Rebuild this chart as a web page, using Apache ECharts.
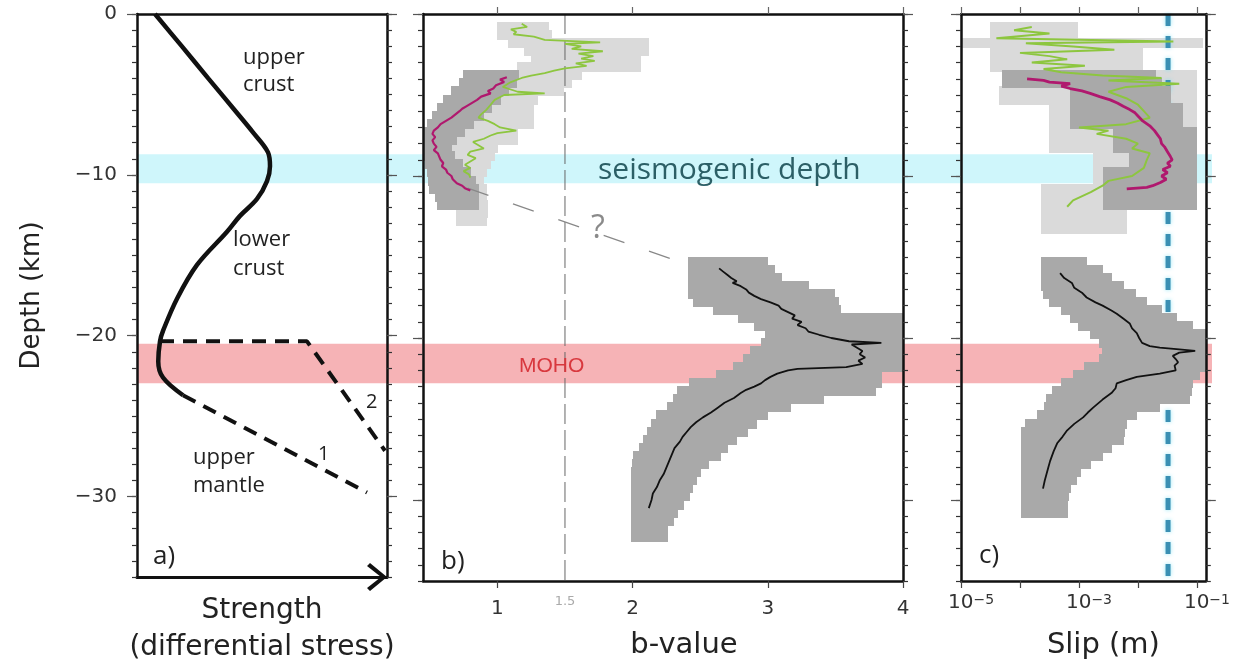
<!DOCTYPE html>
<html><head><meta charset="utf-8">
<script src="https://cdn.jsdelivr.net/npm/echarts@6/dist/echarts.min.js"></script>
<style>html,body{margin:0;padding:0;background:#fff}#c{width:1233px;height:671px}</style>
</head><body><div id="c"></div>
<script>
// ================= DATA =================
const depthTicks = [0, -10, -20, -30];
const bValueTicks = [1, 2, 3, 4];
const bReferenceValue = 1.5;
const slipLogTicks = [-5, -4, -3, -2, -1];
const slipLogLabels = [-5, -3, -1];
const depthMin = -35, depthMax = 0;

// horizontal bands (km)
const bandNames = ['seismogenic depth', 'MOHO'];
const bandTop = [-8.66, -20.35];
const bandBottom = [-10.45, -22.8];

// panel a: strength profile
const strengthDepth = [0, -2, -4, -6, -7.36, -8.6, -9.46, -10.39, -11.5, -12.55, -13.54, -15.6, -17.7, -19.7, -20.35, -21.6, -22.6, -23.7];
const strengthValue = [0.72, 1.79, 2.85, 3.92, 4.64, 5.24, 5.32, 5.2, 4.8, 4.12, 3.6, 2.4, 1.6, 1.04, 0.92, 0.85, 1.04, 1.84];
const mantle1Depth = [-23.7, -29.75];
const mantle1Strength = [1.84, 9.2];
const mantle2Depth = [-20.35, -20.35, -27.15];
const mantle2Strength = [0.92, 6.8, 9.92];

// panel b: b-value envelopes (row centre depth, low, high)
const bUpperLightDepth = [-0.75,-1.25,-1.75,-2.25,-2.75,-3.25,-3.75,-4.25,-4.75,-5.25,-5.75,-6.25,-6.75,-7.25,-7.75,-8.25,-8.75,-9.25,-9.75,-10.25,-10.75,-11.25,-11.75,-12.25,-12.75];
const bUpperLightLo = [1.0,1.0,1.08,1.2,1.25,1.15,0.95,0.8,0.72,0.66,0.6,0.55,0.5,0.48,0.47,0.47,0.47,0.47,0.5,0.52,0.6,0.65,0.68,0.7,0.7];
const bUpperLightHi = [1.38,1.4,2.12,2.12,2.06,2.06,1.62,1.55,1.49,1.3,1.27,1.27,1.27,1.15,1.15,1.0,0.98,0.95,0.92,0.9,0.92,0.92,0.93,0.93,0.92];
const bUpperDarkDepth = [-3.75,-4.25,-4.75,-5.25,-5.75,-6.25,-6.75,-7.25,-7.75,-8.25,-8.75,-9.25,-9.75,-10.25,-10.75,-11.25,-11.75];
const bUpperDarkLo = [0.75,0.72,0.66,0.6,0.56,0.52,0.48,0.46,0.46,0.46,0.46,0.47,0.48,0.49,0.5,0.54,0.56];
const bUpperDarkHi = [1.16,1.14,1.08,1.02,0.96,0.9,0.82,0.76,0.7,0.66,0.68,0.74,0.8,0.84,0.86,0.86,0.86];
const bLowerDepth = [-15.25,-15.75,-16.25,-16.75,-17.25,-17.75,-18.25,-18.75,-19.25,-19.75,-20.25,-20.75,-21.25,-21.75,-22.25,-22.75,-23.25,-23.75,-24.25,-24.75,-25.25,-25.75,-26.25,-26.75,-27.25,-27.75,-28.25,-28.75,-29.25,-29.75,-30.25,-30.75,-31.25,-31.75,-32.25];
const bLowerLo = [2.41,2.41,2.41,2.41,2.41,2.45,2.6,2.78,2.9,2.98,2.95,2.87,2.82,2.75,2.62,2.42,2.33,2.3,2.26,2.18,2.14,2.11,2.08,2.05,2.01,2.0,1.99,1.99,1.99,1.99,1.99,1.99,1.99,1.99,1.99];
const bLowerHi = [3.0,3.05,3.1,3.3,3.49,3.52,3.54,4.0,4.0,4.0,4.0,4.0,4.0,4.0,3.84,3.84,3.8,3.41,3.17,3.0,2.92,2.85,2.77,2.7,2.65,2.56,2.5,2.47,2.44,2.42,2.38,2.33,2.3,2.26,2.26];

// panel b: b-value profiles
const bGreenDepth = [-0.6,-0.8,-0.95,-1.1,-1.25,-1.4,-1.6,-1.75,-1.85,-2.0,-2.15,-2.3,-2.45,-2.6,-2.75,-2.9,-3.05,-3.2,-3.35,-3.5,-3.65,-3.8,-3.95,-4.2,-4.5,-4.8,-4.9,-5.0,-5.3,-5.6,-5.9,-6.2,-6.4,-6.6,-6.8,-7.0,-7.2,-7.35,-7.5,-7.7,-7.9,-8.1,-8.3,-8.5,-8.7,-8.9,-9.1,-9.3,-9.5,-9.7,-9.9,-10.1];
const bGreenValue = [1.18,1.22,1.1,1.14,1.12,1.27,1.35,1.76,1.5,1.62,1.55,1.78,1.6,1.71,1.62,1.72,1.58,1.66,1.5,1.42,1.35,1.25,1.18,1.1,1.04,1.15,1.35,1.05,0.98,0.95,0.92,0.88,0.86,0.93,0.98,1.02,1.14,1.0,0.95,0.9,0.82,0.86,0.9,0.8,0.78,0.84,0.8,0.76,0.8,0.75,0.79,0.8];
const bMagentaDepth = [-3.9,-4.05,-4.2,-4.4,-4.6,-4.75,-4.9,-5.1,-5.3,-5.5,-5.7,-5.85,-6.0,-6.2,-6.4,-6.6,-6.8,-7.0,-7.2,-7.4,-7.6,-7.8,-8.0,-8.2,-8.4,-8.6,-8.8,-9.0,-9.2,-9.4,-9.6,-9.8,-10.0,-10.2,-10.45,-10.6,-10.75,-10.9];
const bMagentaValue = [1.07,1.02,1.05,0.99,0.97,0.93,0.95,0.88,0.85,0.81,0.77,0.74,0.72,0.69,0.66,0.62,0.58,0.56,0.53,0.52,0.54,0.52,0.53,0.55,0.53,0.56,0.57,0.58,0.6,0.59,0.62,0.63,0.66,0.67,0.7,0.74,0.76,0.8];
const bBlackDepth = [-15.7,-15.9,-16.1,-16.3,-16.5,-16.6,-16.8,-17.0,-17.2,-17.4,-17.6,-17.8,-18.0,-18.2,-18.4,-18.6,-18.8,-19.0,-19.2,-19.4,-19.6,-19.8,-20.0,-20.2,-20.3,-20.4,-20.6,-20.8,-21.0,-21.2,-21.4,-21.6,-21.8,-21.9,-22.0,-22.2,-22.4,-22.6,-22.8,-23.0,-23.2,-23.4,-23.7,-24.0,-24.3,-24.6,-24.9,-25.2,-25.5,-25.8,-26.1,-26.4,-26.8,-27.2,-27.6,-28.0,-28.4,-28.8,-29.2,-29.6,-30.0,-30.5];
const bBlackValue = [2.64,2.67,2.7,2.73,2.77,2.74,2.8,2.84,2.86,2.9,2.95,3.02,3.08,3.1,3.15,3.2,3.18,3.25,3.22,3.28,3.3,3.38,3.47,3.6,3.84,3.62,3.66,3.7,3.68,3.72,3.67,3.7,3.58,3.22,3.15,3.07,3.02,2.98,2.95,2.9,2.84,2.8,2.75,2.68,2.63,2.58,2.52,2.47,2.43,2.4,2.37,2.35,2.31,2.29,2.27,2.25,2.23,2.2,2.18,2.15,2.14,2.12];
// dashed "?" connection
const bLinkDepth = [-10.75, -15.1];
const bLinkValue = [0.78, 2.28];

// panel c: log10(slip in m) envelopes
const cUpperLightDepth = [-0.75,-1.25,-1.75,-2.25,-2.75,-3.25,-3.75,-4.25,-4.75,-5.25,-5.75,-6.25,-6.75,-7.25,-7.75,-8.25,-8.75,-9.25,-9.75,-10.25,-10.75,-11.25,-11.75,-12.25,-12.75,-13.25];
const cUpperLightLo = [-4.5,-4.5,-5,-4.5,-4.5,-4.5,-4.3,-4.3,-4.35,-4.35,-3.5,-3.5,-3.5,-3.5,-3.5,-3.5,-2.76,-2.76,-2.76,-2.76,-3.63,-3.63,-3.63,-3.63,-3.63,-3.63];
const cUpperLightHi = [-3.03,-3.03,-0.9,-1.92,-1.92,-1.92,-1.0,-1.0,-1.0,-1.0,-1.0,-1.0,-1.0,-1.0,-1.0,-1.0,-1.0,-1.0,-1.0,-1.0,-2.2,-2.2,-2.2,-2.2,-2.2,-2.2];
const cUpperDarkDepth = [-3.75,-4.25,-4.75,-5.25,-5.75,-6.25,-6.75,-7.25,-7.75,-8.25,-8.75,-9.25,-9.75,-10.25,-10.75,-11.25,-11.75];
const cUpperDarkLo = [-4.3,-4.3,-3.15,-3.15,-3.15,-3.15,-3.15,-2.42,-2.42,-2.42,-2.14,-2.14,-2.59,-2.59,-2.59,-2.59,-2.59];
const cUpperDarkHi = [-1.7,-1.6,-1.45,-1.45,-1.24,-1.24,-1.24,-1.0,-1.0,-1.0,-1.0,-1.0,-1.0,-1.0,-1.0,-1.0,-1.0];
const cLowerDepth = [-15.25,-15.75,-16.25,-16.75,-17.25,-17.75,-18.25,-18.75,-19.25,-19.75,-20.25,-20.75,-21.25,-21.75,-22.25,-22.75,-23.25,-23.75,-24.25,-24.75,-25.25,-25.75,-26.25,-26.75,-27.25,-27.75,-28.25,-28.75,-29.25,-29.75,-30.25,-30.75];
const cLowerLo = [-3.63,-3.63,-3.63,-3.63,-3.6,-3.5,-3.3,-3.15,-3.0,-2.81,-2.65,-2.6,-2.65,-2.9,-3.1,-3.3,-3.45,-3.55,-3.58,-3.7,-3.9,-3.97,-3.97,-3.97,-3.97,-3.97,-3.97,-3.97,-3.97,-3.97,-3.97,-3.97];
const cLowerHi = [-2.87,-2.6,-2.45,-2.25,-2.05,-1.85,-1.6,-1.35,-1.07,-0.85,-0.85,-0.85,-0.85,-0.85,-0.95,-1.07,-1.1,-1.12,-1.63,-2.02,-2.19,-2.22,-2.25,-2.45,-2.6,-2.8,-2.98,-3.05,-3.15,-3.18,-3.2,-3.2];

// panel c: slip profiles
const cGreenDepth = [-0.8,-1.0,-1.2,-1.5,-1.7,-1.8,-2.0,-2.2,-2.4,-2.6,-2.8,-3.0,-3.2,-3.4,-3.6,-3.8,-3.95,-4.1,-4.3,-4.5,-4.8,-5.2,-5.6,-6.0,-6.4,-6.8,-7.0,-7.2,-7.4,-7.7,-8.0,-8.3,-8.6,-9.0,-9.5,-10.0,-10.3,-10.6,-11.0,-11.5,-11.9];
const cGreenLog = [-3.8,-4.1,-3.5,-4.4,-1.4,-3.9,-3.1,-2.4,-4.0,-3.5,-3.2,-3.8,-2.9,-3.6,-3.3,-2.6,-1.6,-2.5,-1.3,-2.2,-2.5,-2.2,-2.0,-1.9,-1.8,-2.2,-3.0,-2.5,-2.7,-2.2,-2.0,-2.1,-1.8,-1.85,-1.9,-2.1,-2.5,-2.6,-2.8,-3.1,-3.2];
const cMagentaDepth = [-4.0,-4.1,-4.2,-4.3,-4.45,-4.6,-4.75,-4.9,-5.1,-5.3,-5.5,-5.7,-5.9,-6.1,-6.3,-6.6,-6.9,-7.2,-7.4,-7.7,-8.0,-8.2,-8.5,-8.8,-9.0,-9.2,-9.4,-9.6,-9.8,-10.0,-10.2,-10.4,-10.6,-10.7,-10.8];
const cMagentaLog = [-3.88,-3.6,-3.5,-3.15,-3.3,-3.15,-2.95,-2.81,-2.65,-2.47,-2.35,-2.25,-2.14,-2.05,-2.0,-1.92,-1.8,-1.72,-1.68,-1.62,-1.6,-1.55,-1.5,-1.45,-1.42,-1.5,-1.45,-1.58,-1.5,-1.6,-1.52,-1.62,-1.75,-1.85,-2.19];
const cBlackDepth = [-16.0,-16.3,-16.6,-16.9,-17.2,-17.5,-17.8,-18.0,-18.3,-18.5,-18.8,-19.1,-19.4,-19.7,-20.0,-20.3,-20.5,-20.6,-20.7,-20.8,-20.9,-21.1,-21.3,-21.5,-21.7,-22.0,-22.2,-22.4,-22.6,-22.8,-23.1,-23.4,-23.8,-24.3,-24.6,-24.9,-25.3,-25.7,-26.1,-26.5,-27.0,-27.6,-28.0,-28.4,-28.8,-29.3];
const cBlackLog = [-3.32,-3.25,-3.12,-3.08,-2.95,-2.87,-2.72,-2.6,-2.45,-2.36,-2.25,-2.14,-2.1,-2.02,-1.98,-1.93,-1.8,-1.63,-1.3,-1.03,-1.3,-1.41,-1.36,-1.32,-1.38,-1.36,-1.63,-2.02,-2.2,-2.36,-2.38,-2.45,-2.6,-2.76,-2.85,-2.93,-3.08,-3.2,-3.28,-3.37,-3.43,-3.49,-3.52,-3.55,-3.58,-3.61];
const cSlipThresholdLog = -1.49;

// ================= STYLE =================
const C = {
  band: ['#cff6fb', '#f6b3b6'],
  light: '#dadada', dark: '#a9a9a9',
  green: '#8dc63f', magenta: '#b0186e', black: '#111',
  blue: '#3a8fb3', axis: '#111', tick: '#333', text: '#222'
};
const AXF = 'DejaVu Sans';
const NOTEF = 'Open Sans';

const zip = (xs, ys) => xs.map((x, i) => [x, ys[i]]);
const rows = (d, lo, hi) => d.map((v, i) => [lo[i], hi[i], v]);
const fmtDepth = v => (v === 0 ? '0' : '\u2212' + Math.abs(v));

function envRender(color, half) {
  return function (params, api) {
    const lo = api.value(0), hi = api.value(1), d = api.value(2);
    const p1 = api.coord([lo, d + half]);
    const p2 = api.coord([hi, d - half]);
    const x = Math.floor(p1[0]), y = Math.floor(p1[1]);
    return { type: 'rect', shape: { x: x, y: y, width: Math.ceil(p2[0]) - x, height: Math.ceil(p2[1]) - y + 1 }, style: { fill: color } };
  };
}
function envSeries(xi, yi, data, color, z) {
  return { type: 'custom', xAxisIndex: xi, yAxisIndex: yi, data: data, clip: true, z: z, silent: true,
    encode: { x: [0, 1], y: 2 }, renderItem: envRender(color, 0.25) };
}
function lineSeries(xi, yi, data, color, width, type, z, extra) {
  return Object.assign({ type: 'line', xAxisIndex: xi, yAxisIndex: yi, data: data, showSymbol: false, symbol: 'none', silent: true, z: z,
    lineStyle: { color: color, width: width, type: type || 'solid' } }, extra || {});
}

function yAxesFor(grid, withLabels, name) {
  const base = { gridIndex: grid, type: 'value', min: depthMin, max: depthMax, splitLine: { show: false }, z: 10 };
  const minorTick = { show: true, length: 5, lineStyle: { color: C.tick, width: 1.2 } };
  const majorTick = { show: true, length: 10, customValues: depthTicks, lineStyle: { color: '#555', width: 1.2 } };
  const L1 = Object.assign({}, base, { position: 'left', interval: 1, axisLine: { show: true, onZero: false, lineStyle: { color: C.axis, width: 2.5 } }, axisTick: minorTick, axisLabel: { show: false } });
  const L2 = Object.assign({}, base, { position: 'left', axisLine: { show: false, onZero: false }, axisTick: majorTick,
    axisLabel: { show: withLabels, customValues: depthTicks, formatter: fmtDepth, margin: 20, fontFamily: AXF, fontSize: 20, color: '#333' } });
  if (name) Object.assign(L2, { name: name, nameLocation: 'middle', nameRotate: 90, nameGap: 92,
    nameTextStyle: { fontFamily: AXF, fontSize: 26, color: C.text } });
  const R1 = Object.assign({}, base, { position: 'right', interval: 1, axisLine: { show: true, onZero: false, lineStyle: { color: C.axis, width: 2.5 } }, axisTick: minorTick, axisLabel: { show: false } });
  const R2 = Object.assign({}, base, { position: 'right', axisLine: { show: false, onZero: false }, axisTick: majorTick, axisLabel: { show: false } });
  return [L1, L2, R1, R2];
}

const arrowPath = 'path://M14,0 L28,17 L25,20 L14,6 L3,20 L0,17 Z';
const noSplit = { show: false };

const xAxes = [
  // 0 background
  { gridIndex: 0, type: 'value', min: 0, max: 1, show: false },
  // 1 a bottom with arrow
  { gridIndex: 1, type: 'value', min: 0, max: 10, position: 'bottom', z: 10,
    axisLine: { onZero: false, lineStyle: { color: C.axis, width: 3 }, symbol: ['none', arrowPath], symbolSize: [28, 20], symbolOffset: [0, -10] },
    axisTick: { show: false }, axisLabel: { show: false }, splitLine: noSplit,
    name: 'Strength\n(differential stress)', nameLocation: 'middle', nameGap: 15,
    nameTextStyle: { fontFamily: AXF, fontSize: 28, lineHeight: 37, color: C.text } },
  // 2 a top
  { gridIndex: 1, type: 'value', min: 0, max: 10, position: 'top', z: 10,
    axisLine: { onZero: false, lineStyle: { color: C.axis, width: 2.5 } }, axisTick: { show: false }, axisLabel: { show: false }, splitLine: noSplit },
  // 3 b bottom
  { gridIndex: 2, type: 'value', min: 0.45, max: 4, position: 'bottom', z: 10,
    axisLine: { onZero: false, lineStyle: { color: C.axis, width: 2.5 } },
    axisTick: { show: true, length: 7, customValues: bValueTicks, lineStyle: { color: '#444', width: 1.2 } },
    axisLabel: { customValues: bValueTicks, margin: 18, fontFamily: AXF, fontSize: 20, color: '#333' }, splitLine: noSplit,
    name: 'b-value', nameLocation: 'middle', nameGap: 50,
    nameTextStyle: { fontFamily: AXF, fontSize: 29, color: C.text, padding: [0, 0, 0, 42] } },
  // 4 b reference label 1.5
  { gridIndex: 2, type: 'value', min: 0.45, max: 4, position: 'bottom', z: 10,
    axisLine: { show: false, onZero: false }, axisTick: { show: false },
    axisLabel: { customValues: [bReferenceValue], margin: 14, fontFamily: AXF, fontSize: 13, color: '#aaa' }, splitLine: noSplit },
  // 5 b top
  { gridIndex: 2, type: 'value', min: 0.45, max: 4, position: 'top', z: 10,
    axisLine: { onZero: false, lineStyle: { color: C.axis, width: 2.5 } },
    axisTick: { show: true, length: 7, customValues: bValueTicks, lineStyle: { color: '#666', width: 1.2 } },
    axisLabel: { show: false }, splitLine: noSplit },
  // 6 c bottom (log10 slip)
  { gridIndex: 3, type: 'value', min: -5, max: -0.85, position: 'bottom', z: 10,
    axisLine: { onZero: false, lineStyle: { color: C.axis, width: 2.5 } },
    axisTick: { show: true, length: 7, customValues: slipLogTicks, lineStyle: { color: '#444', width: 1.2 } },
    axisLabel: { customValues: slipLogLabels, margin: 12,
      formatter: v => '{sp|}{b|10}{s|\u2212' + Math.abs(v) + '}',
      rich: {
        sp: { width: 20 },
        b: { fontFamily: AXF, fontSize: 20, lineHeight: 20, color: '#333', verticalAlign: 'bottom', padding: [6, 0, 0, 0] },
        s: { fontFamily: AXF, fontSize: 14, lineHeight: 14, color: '#333', verticalAlign: 'top', padding: [0, 0, 6, 0] }
      } },
    splitLine: noSplit,
    name: 'Slip (m)', nameLocation: 'middle', nameGap: 50,
    nameTextStyle: { fontFamily: AXF, fontSize: 29, color: C.text, padding: [0, 0, 0, 40] } },
  // 7 c top
  { gridIndex: 3, type: 'value', min: -5, max: -0.85, position: 'top', z: 10,
    axisLine: { onZero: false, lineStyle: { color: C.axis, width: 2.5 } },
    axisTick: { show: true, length: 7, customValues: slipLogTicks, lineStyle: { color: '#666', width: 1.2 } },
    axisLabel: { show: false }, splitLine: noSplit }
];

const yAxes = [{ gridIndex: 0, type: 'value', min: depthMin, max: depthMax, show: false }]
  .concat(yAxesFor(1, true, 'Depth (km)'))   // 1..4
  .concat(yAxesFor(2, false))                 // 5..8
  .concat(yAxesFor(3, false));                // 9..12

const bandData = bandNames.map((n, i) => [bandTop[i], bandBottom[i], i]);

const series = [
  { type: 'custom', xAxisIndex: 0, yAxisIndex: 0, data: bandData, z: 1, silent: true, encode: { y: [0, 1] },
    renderItem: (params, api) => {
      const p1 = api.coord([0, api.value(0)]);
      const p2 = api.coord([1, api.value(1)]);
      return { type: 'rect', shape: { x: p1[0], y: p1[1], width: p2[0] - p1[0], height: p2[1] - p1[1] }, style: { fill: C.band[api.value(2)] } };
    } },
  // panel a
  lineSeries(1, 1, zip(strengthValue, strengthDepth), C.black, 4.5, 'solid', 6, { smooth: 0.35 }),
  lineSeries(1, 1, zip(mantle1Strength, mantle1Depth), C.black, 4, [14, 9], 6),
  lineSeries(1, 1, zip(mantle2Strength, mantle2Depth), C.black, 4, [14, 9], 6),
  // panel b
  envSeries(3, 5, rows(bUpperLightDepth, bUpperLightLo, bUpperLightHi), C.light, 2),
  envSeries(3, 5, rows(bUpperDarkDepth, bUpperDarkLo, bUpperDarkHi), C.dark, 4),
  envSeries(3, 5, rows(bLowerDepth, bLowerLo, bLowerHi), C.dark, 4),
  lineSeries(3, 5, [[bReferenceValue, depthMax], [bReferenceValue, depthMin]], '#666', 1, [20, 6], 5),
  lineSeries(3, 5, zip(bLinkValue, bLinkDepth), '#888', 1.2, [22, 26], 5),
  lineSeries(3, 5, zip(bGreenValue, bGreenDepth), C.green, 1.8, 'solid', 6),
  lineSeries(3, 5, zip(bMagentaValue, bMagentaDepth), C.magenta, 2.2, 'solid', 7),
  lineSeries(3, 5, zip(bBlackValue, bBlackDepth), C.black, 1.8, 'solid', 7),
  // panel c
  envSeries(6, 9, rows(cUpperLightDepth, cUpperLightLo, cUpperLightHi), C.light, 2),
  lineSeries(6, 9, [[cSlipThresholdLog, depthMax], [cSlipThresholdLog, depthMin]], C.blue, 5, [12, 10], 3,
    { lineStyle: { color: C.blue, width: 5, type: [12, 10], shadowColor: 'rgba(120,225,245,0.8)', shadowBlur: 4 } }),
  envSeries(6, 9, rows(cUpperDarkDepth, cUpperDarkLo, cUpperDarkHi), C.dark, 4),
  envSeries(6, 9, rows(cLowerDepth, cLowerLo, cLowerHi), C.dark, 4),
  lineSeries(6, 9, zip(cGreenLog, cGreenDepth), C.green, 2, 'solid', 6),
  lineSeries(6, 9, zip(cMagentaLog, cMagentaDepth), C.magenta, 2.8, 'solid', 7),
  lineSeries(6, 9, zip(cBlackLog, cBlackDepth), C.black, 1.8, 'solid', 7)
];

function note(text, left, top, size, color, family, lh) {
  return { type: 'text', left: left, top: top, z: 100, silent: true,
    style: { text: text, fontFamily: family || NOTEF, fontSize: size, lineHeight: lh || Math.round(size * 1.2), fill: color || C.text } };
}
const graphics = [
  note('upper\ncrust', 243, 44, 22, C.text, NOTEF, 27),
  note('lower\ncrust', 233, 225, 22, C.text, NOTEF, 29),
  note('upper\nmantle', 193, 444, 22, C.text, NOTEF, 28),
  note('1', 318, 442, 20),
  note('2', 366, 390, 20),
  note('a)', 153, 542, 26, C.text, NOTEF, 30),
  note('b)', 441, 547, 26, C.text, NOTEF, 30),
  note('c)', 979, 541, 26, C.text, NOTEF, 30),
  note(bandNames[0], 598, 152, 30, '#2c5f66', NOTEF, 36),
  note(bandNames[1], 519, 354, 21, '#d8383e', 'Liberation Sans', 24),
  note('?', 591, 210, 32, '#8a8a8a', NOTEF, 38)
];

const option = {
  animation: false,
  backgroundColor: '#fff',
  grid: [
    { left: 137, right: 21, top: 14, height: 567 },
    { left: 137, width: 250, top: 14, height: 567 },
    { left: 423, width: 480, top: 14, height: 567 },
    { left: 961, width: 245, top: 14, height: 567 }
  ],
  xAxis: xAxes,
  yAxis: yAxes,
  series: series,
  graphic: graphics
};
const chart = echarts.init(document.getElementById('c'));
chart.setOption(option);
</script>
</body></html>
